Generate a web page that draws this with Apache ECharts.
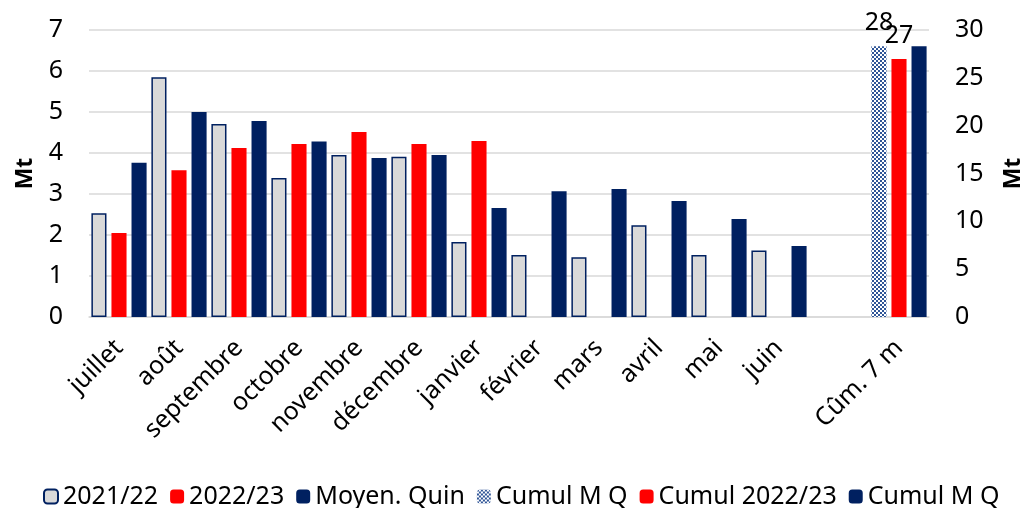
<!DOCTYPE html>
<html>
<head>
<meta charset="utf-8">
<script src="https://cdn.jsdelivr.net/npm/echarts@6/dist/echarts.min.js"></script>
<style>
html, body { margin: 0; padding: 0; background: #fff; }
#main { width: 1021px; height: 508px; }
</style>
</head>
<body>
<div id="main"></div>
<script>
// categories (13th slot is left empty in the original)
var mois = ['juillet', 'août', 'septembre', 'octobre', 'novembre', 'décembre', 'janvier',
  'février', 'mars', 'avril', 'mai', 'juin', '', 'Cûm. 7 m'];

// monthly values, Mt (left axis)
var s2122 = [2.53, 5.85, 4.71, 3.39, 3.95, 3.91, 1.83, 1.51, 1.46, 2.24, 1.51, 1.62, null, null];
var s2223 = [2.05, 3.58, 4.12, 4.22, 4.51, 4.22, 4.29, null, null, null, null, null, null, null];
var moyQuin = [3.76, 5.0, 4.78, 4.28, 3.88, 3.95, 2.66, 3.07, 3.12, 2.83, 2.39, 1.73, null, null];

// cumulated values, Mt (right axis)
var cumulMQ = [null, null, null, null, null, null, null, null, null, null, null, null, null, 28.3];
var cumul2223 = [null, null, null, null, null, null, null, null, null, null, null, null, null, 26.97];
var cumulMQ2 = [null, null, null, null, null, null, null, null, null, null, null, null, null, 28.3];

var FONT = 'Noto Sans';
var NAVY = '#002060';
var RED = '#ff0000';
var GREY = '#d9d9d9';

// small checker pattern for the first cumul bar
var cv = document.createElement('canvas');
cv.width = 4; cv.height = 4;
var cx = cv.getContext('2d');
cx.fillStyle = '#fff';
cx.fillRect(0, 0, 4, 4);
cx.fillStyle = '#2f5597';
cx.fillRect(0, 0, 2, 2);
cx.fillRect(2, 2, 2, 2);

var myChart = echarts.init(document.getElementById('main'));

var cumLabel = {
  show: true,
  position: 'top',
  distance: 11,
  color: '#000',
  fontFamily: FONT,
  fontSize: 25,
  formatter: function (p) { return Math.round(p.value); }
};

var option = {
  animation: false,
  textStyle: { fontFamily: FONT },
  grid: { left: 89, right: 92, top: 30, bottom: 191, outerBoundsMode: 'none', containLabel: false },
  legend: {
    left: 38,
    top: 479,
    itemWidth: 14,
    itemHeight: 14,
    itemGap: 12,
    textStyle: { fontSize: 25, color: '#000', fontFamily: FONT },
    data: ['2021/22', '2022/23', 'Moyen. Quin', 'Cumul M Q', 'Cumul 2022/23', 'Cumul M Q ']
  },
  xAxis: [
    {
      type: 'category',
      data: mois,
      axisTick: { show: false },
      axisLine: { lineStyle: { color: GREY, width: 1.5 } },
      axisLabel: {
        interval: 0,
        rotate: 45,
        margin: 27,
        color: '#000',
        fontSize: 25,
        fontFamily: FONT
      }
    },
    {
      type: 'category',
      data: mois,
      show: false
    }
  ],
  yAxis: [
    {
      type: 'value',
      min: 0, max: 7, interval: 1,
      name: 'Mt',
      nameLocation: 'middle',
      nameGap: 52,
      nameRotate: 90,
      nameTextStyle: { fontSize: 23, fontWeight: 'bold', color: '#000', fontFamily: FONT },
      axisLabel: { color: '#000', fontSize: 25, margin: 26, fontFamily: FONT },
      splitLine: { lineStyle: { color: GREY, width: 1.5 } }
    },
    {
      type: 'value',
      min: 0, max: 30, interval: 5,
      name: 'Mt',
      nameLocation: 'middle',
      nameGap: 73,
      nameRotate: 90,
      nameTextStyle: { fontSize: 23, fontWeight: 'bold', color: '#000', fontFamily: FONT },
      axisLabel: { color: '#000', fontSize: 25, margin: 26, fontFamily: FONT },
      splitLine: { show: false }
    }
  ],
  series: [
    {
      name: '2021/22', type: 'bar', data: s2122,
      barGap: '33%', barCategoryGap: '8%',
      itemStyle: { color: GREY, borderColor: NAVY, borderWidth: 1.5 }
    },
    { name: '2022/23', type: 'bar', data: s2223, itemStyle: { color: RED } },
    { name: 'Moyen. Quin', type: 'bar', data: moyQuin, itemStyle: { color: NAVY } },
    {
      name: 'Cumul M Q', type: 'bar', data: cumulMQ, xAxisIndex: 1, yAxisIndex: 1,
      barGap: '33%', barCategoryGap: '8%',
      itemStyle: { color: { image: cv, repeat: 'repeat' } },
      label: cumLabel
    },
    {
      name: 'Cumul 2022/23', type: 'bar', data: cumul2223, xAxisIndex: 1, yAxisIndex: 1,
      itemStyle: { color: RED },
      label: cumLabel
    },
    {
      name: 'Cumul M Q ', type: 'bar', data: cumulMQ2, xAxisIndex: 1, yAxisIndex: 1,
      itemStyle: { color: NAVY }
    }
  ]
};

myChart.setOption(option);
</script>
</body>
</html>
